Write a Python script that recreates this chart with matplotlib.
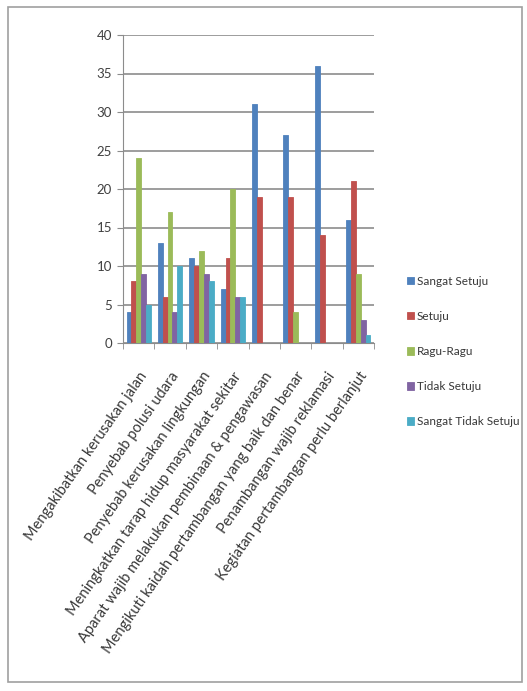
import matplotlib.pyplot as plt
import numpy as np
from matplotlib.patches import Rectangle

kategori = [
    "Mengakibatkan kerusakan jalan",
    "Penyebab polusi udara",
    "Penyebab kerusakan lingkungan",
    "Meningkatkan tarap hidup masyarakat sekitar",
    "Aparat wajib melakukan pembinaan & pengawasan",
    "Mengikuti kaidah pertambangan yang baik dan benar",
    "Penambangan wajib reklamasi",
    "Kegiatan pertambangan perlu berlanjut",
]
seri = ["Sangat Setuju", "Setuju", "Ragu-Ragu", "Tidak Setuju", "Sangat Tidak Setuju"]
sangat_setuju = [4, 13, 11, 7, 31, 27, 36, 16]
setuju = [8, 6, 10, 11, 19, 19, 14, 21]
ragu = [24, 17, 12, 20, 0, 4, 0, 9]
tidak_setuju = [9, 4, 9, 6, 0, 0, 0, 3]
sangat_tidak = [5, 10, 8, 6, 0, 0, 0, 1]
warna = ["#4F81BD", "#C0504D", "#9BBB59", "#8064A2", "#4BACC6"]

plt.rcParams['font.family'] = ['Lato', 'DejaVu Sans']

fig = plt.figure(figsize=(5.27, 6.91), dpi=100)
# area plot (piksel): x 123..374, y 35..343
ax = fig.add_axes([123/527, 1 - 343/691, 251/527, 308/691])

data = [sangat_setuju, setuju, ragu, tidak_setuju, sangat_tidak]
x = np.arange(len(kategori))
w = 1.0 / 6.5
for i, (vals, c, lab) in enumerate(zip(data, warna, seri)):
    ax.bar(x - 2*w + i*w, vals, width=w, color=c, edgecolor=c, linewidth=0.6,
           label=lab, zorder=3)

ax.set_xlim(-0.5, len(kategori) - 0.5)
ax.set_ylim(0, 40)
ax.set_yticks(range(0, 41, 5))
ax.yaxis.grid(True, color="#8c8c8c", linewidth=1.2, zorder=0)
for s in ["top", "right"]:
    ax.spines[s].set_visible(False)
for s in ["left", "bottom"]:
    ax.spines[s].set_color("#8c8c8c")
ax.tick_params(axis="y", colors="#8c8c8c", length=4, labelcolor="#404040",
               labelsize=9.5, pad=4)
ax.set_xticks(x)
ax.set_xticklabels(kategori, rotation=55, ha="right", va="top",
                   rotation_mode="anchor", fontsize=10.5, color="#383838")
ax.tick_params(axis="x", length=0, pad=19)
ax.set_xticks(np.arange(-0.5, len(kategori), 1.0), minor=True)
ax.tick_params(axis="x", which="minor", length=4, color="#8c8c8c")

fig.legend(loc="center left", bbox_to_anchor=(402/527, 1 - 351.5/691),
           borderaxespad=0, frameon=False, fontsize=8.5,
           handlelength=0.6, handleheight=0.6, handletextpad=0.25,
           labelspacing=2.05, labelcolor="#383838")

fig.patches.append(Rectangle((8/527, 1 - 682/691), 514/527, 675/691,
                             transform=fig.transFigure, fill=False,
                             edgecolor="#a0a0a0", linewidth=1.2))

fig.savefig("out.png", dpi=100)
